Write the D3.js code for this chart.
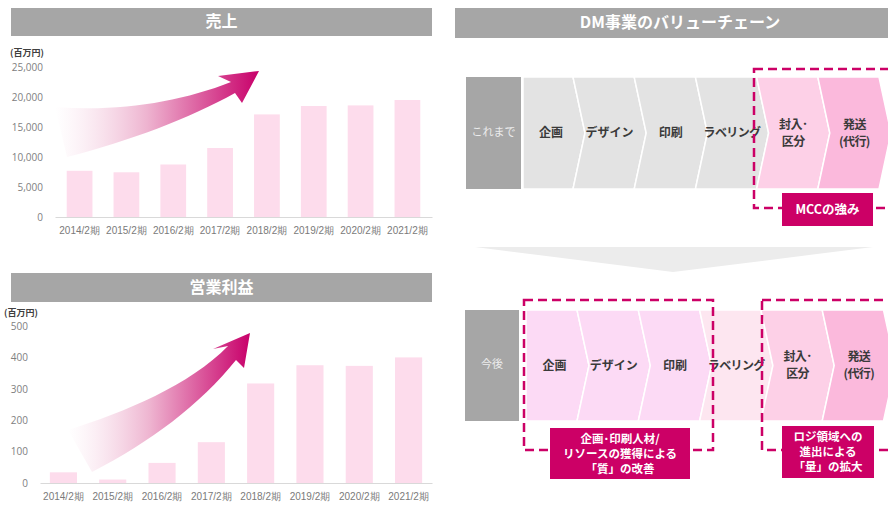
<!DOCTYPE html>
<html><head><meta charset="utf-8">
<script src="https://cdn.jsdelivr.net/npm/d3@7"></script>
<style>
body{margin:0;background:#fff;}
svg{display:block;font-family:"Noto Sans CJK JP","Noto Sans",sans-serif;}
</style></head><body>
<svg id="c" width="888" height="506"></svg>
<script>
// ---- data ----
const periods = ['2014/2期','2015/2期','2016/2期','2017/2期','2018/2期','2019/2期','2020/2期','2021/2期'];
const sales = [7700, 7450, 8750, 11500, 17100, 18500, 18600, 19500];          // 売上（百万円）
const operatingProfit = [34, 11, 64, 130, 317, 375, 373, 400];               // 営業利益（百万円）
const salesTicks = [0, 5000, 10000, 15000, 20000, 25000];
const profitTicks = [0, 100, 200, 300, 400, 500];
const stages = ['企画', 'デザイン', '印刷', 'ラベリング', '封入･\n区分', '発送\n(代行)'];
const rowLabels = ['これまで', '今後'];
const beforeFill = ['#e3e3e3','#e3e3e3','#e3e3e3','#e3e3e3','#fdd0e7','#fbb9dc'];
const afterFill  = ['#fcdaf5','#fcdaf5','#fcdaf5','#fde6f0','#fdd0e7','#fbb9dc'];

const MAG = '#cc0066', BAR = '#fddcec', GREY = '#a6a6a6';
const svg = d3.select('#c');
const defs = svg.append('defs');

function titleBar(x0, x1, y0, y1, text) {
  svg.append('rect').attr('x', x0).attr('y', y0).attr('width', x1 - x0).attr('height', y1 - y0).attr('fill', GREY);
  svg.append('text').attr('x', (x0 + Math.min(x1, 905)) / 2).attr('y', (y0 + y1) / 2 + 1)
    .attr('text-anchor', 'middle').attr('dominant-baseline', 'middle')
    .attr('fill', '#fff').attr('font-size', 16).attr('font-weight', 'bold').text(text);
}

function barChart(o) {
  titleBar(11, 432, o.titleY0, o.titleY1, o.title);
  svg.append('text').attr('x', o.unitX).attr('y', o.unitY).attr('font-size', 9)
    .attr('font-weight', 'bold').attr('fill', '#404040').text('(百万円)');

  const x = d3.scaleBand().domain(periods).range([o.x0, 432]).paddingInner(0.45).paddingOuter(o.padOuter);
  const y = d3.scaleLinear().domain([0, o.ticks[o.ticks.length - 1]]).range([o.yBase, o.yTop]);

  // growth arrow drawn over the bars
  const gid = 'grad' + o.id;
  const lg = defs.append('linearGradient').attr('id', gid).attr('gradientUnits', 'userSpaceOnUse')
    .attr('x1', o.gx[0]).attr('y1', 0).attr('x2', o.gx[1]).attr('y2', 0);
  lg.append('stop').attr('offset', 0).attr('stop-color', '#ffffff').attr('stop-opacity', 0.5);
  lg.append('stop').attr('offset', 0.45).attr('stop-color', '#eeb4d0');
  lg.append('stop').attr('offset', 1).attr('stop-color', '#c8006a');

  svg.append('g').selectAll('rect').data(o.values).join('rect')
    .attr('x', (d, i) => x(periods[i])).attr('width', x.bandwidth())
    .attr('y', d => y(d)).attr('height', d => y(0) - y(d)).attr('fill', BAR);

  svg.append('path').attr('d', o.arrow).attr('fill', `url(#${gid})`);

  const ya = svg.append('g').attr('transform', `translate(${o.x0},0)`)
    .call(d3.axisLeft(y).tickValues(o.ticks).tickSize(0).tickPadding(12).tickFormat(d3.format(',')));
  ya.select('.domain').remove();
  ya.selectAll('text').attr('font-family', '"Open Sans","Noto Sans",sans-serif').attr('font-size', 10).attr('fill', '#808080');

  const xa = svg.append('g').attr('transform', `translate(0,${o.yBase})`)
    .call(d3.axisBottom(x).tickSize(0).tickPadding(10));
  xa.select('.domain').attr('stroke', '#d9d9d9');
  xa.selectAll('text').attr('font-size', 10).attr('fill', '#7a7a7a');
}

barChart({
  id: 1, title: '売上', titleY0: 8, titleY1: 36, unitX: 10, unitY: 56,
  x0: 55, padOuter: 0.25, yBase: 217, yTop: 67, ticks: salesTicks, values: sales, gx: [55, 259],
  arrow: 'M55,107 C120,112 180,102 231,82 L218,76 L259,71 L242,103 L235,93 C190,118 130,141 67,157 Z'
});
barChart({
  id: 2, title: '営業利益', titleY0: 273, titleY1: 302, unitX: 4, unitY: 316,
  x0: 40, padOuter: 0.2, yBase: 483, yTop: 326, ticks: profitTicks, values: operatingProfit, gx: [68, 250],
  arrow: 'M68,430 C125,412 190,385 228,346 L213,349 L250,333 L244,368 L236,360 C200,405 150,442 92,472 Z'
});

// ---- value chain ----
titleBar(455, 905, 8, 38, 'DM事業のバリューチェーン');

function chainRow(o) {
  const top = o.top, bot = o.bot, mid = (top + bot) / 2, d = 12;
  svg.append('rect').attr('x', o.boxX0).attr('y', top).attr('width', o.boxX1 - o.boxX0)
    .attr('height', bot - top).attr('fill', GREY);
  svg.append('text').attr('x', (o.boxX0 + o.boxX1) / 2).attr('y', mid).attr('text-anchor', 'middle')
    .attr('dominant-baseline', 'middle').attr('font-size', 11).attr('fill', '#ececec').text(o.label);

  const bounds = stages.map((s, i) => o.b0 + i * o.step);
  const g = svg.append('g');
  stages.forEach((s, i) => {
    const L = i === 0 ? o.start : bounds[i - 1], R = bounds[i];
    const pts = [[L, top], [R, top], [R + d, mid], [R, bot], [L, bot]];
    if (i > 0) pts.push([L + d, mid]);
    g.append('polygon').attr('points', pts.map(p => p.join(',')).join(' '))
      .attr('fill', o.fills[i]).attr('stroke', '#fff').attr('stroke-width', 1.5);
  });
  stages.forEach((s, i) => {
    const L = i === 0 ? o.start : bounds[i - 1], R = bounds[i];
    const cx = (L + R) / 2 + (i === 0 ? 3 : d / 2);
    const lines = s.split('\n');
    const t = g.append('text').attr('text-anchor', 'middle').attr('font-size', 12)
      .attr('font-weight', 'bold').attr('fill', '#3a3a3a');
    if (s.length > 4) t.attr('letter-spacing', -0.6);
    lines.forEach((ln, k) => {
      t.append('tspan').attr('x', cx).attr('y', mid + (k - (lines.length - 1) / 2) * 17 + 4).text(ln);
    });
  });
}

chainRow({ label: rowLabels[0], top: 77, bot: 189, boxX0: 466, boxX1: 521, start: 523, b0: 573, step: 61.2, fills: beforeFill });

// downward transition arrow
svg.append('path').attr('d', 'M475,247 L873,247 L673,272 Z').attr('fill', '#ececec');

chainRow({ label: rowLabels[1], top: 310, bot: 421, boxX0: 465, boxX1: 519, start: 526, b0: 577, step: 61.3, fills: afterFill });

function dashed(x0, y0, x1, y1) {
  svg.append('rect').attr('x', x0).attr('y', y0).attr('width', x1 - x0).attr('height', y1 - y0)
    .attr('fill', 'none').attr('stroke', MAG).attr('stroke-width', 2.5).attr('stroke-dasharray', '9,5');
}
function tag(x0, y0, x1, y1, lines, fs) {
  svg.append('rect').attr('x', x0).attr('y', y0).attr('width', x1 - x0).attr('height', y1 - y0).attr('fill', MAG);
  const t = svg.append('text').attr('text-anchor', 'middle').attr('font-size', fs)
    .attr('font-weight', 'bold').attr('fill', '#fff');
  const my = (y0 + y1) / 2;
  lines.forEach((ln, k) => {
    t.append('tspan').attr('x', (x0 + x1) / 2).attr('y', my + (k - (lines.length - 1) / 2) * 15 + 4).text(ln);
  });
}

dashed(754, 69, 960, 208);
tag(782, 193, 873, 226, ['MCCの強み'], 12.5);

dashed(524, 300, 713, 450);
dashed(762, 300, 960, 450);
tag(550, 428, 690, 479, ['企画･印刷人材/', 'リソースの獲得による', '「質」の改善'], 11.5);
tag(782, 426, 874, 478, ['ロジ領域への', '進出による', '「量」の拡大'], 11.5);
</script></body></html>
